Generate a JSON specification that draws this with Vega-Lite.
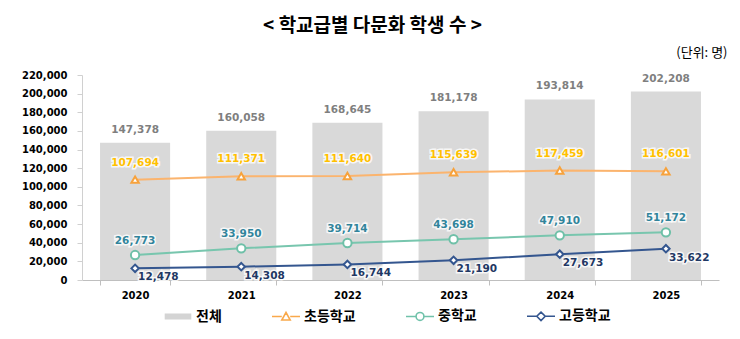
{
  "$schema": "https://vega.github.io/schema/vega-lite/v6.json",
  "width": 637,
  "height": 205,
  "autosize": {"type": "none"},
  "padding": {"left": 82, "top": 75, "right": 21, "bottom": 59},
  "background": "white",
  "title": {"text": "< 학교급별 다문화 학생 수 >", "frame": "group", "anchor": "middle", "dx": -28, "offset": 10, "font": "Noto Sans CJK KR", "fontSize": 19, "fontWeight": "bold", "color": "#000000"},
  "data": {"values": [
    {"year": "2020", "series": "전체", "value": 147378},
    {"year": "2021", "series": "전체", "value": 160058},
    {"year": "2022", "series": "전체", "value": 168645},
    {"year": "2023", "series": "전체", "value": 181178},
    {"year": "2024", "series": "전체", "value": 193814},
    {"year": "2025", "series": "전체", "value": 202208},
    {"year": "2020", "series": "초등학교", "value": 107694},
    {"year": "2021", "series": "초등학교", "value": 111371},
    {"year": "2022", "series": "초등학교", "value": 111640},
    {"year": "2023", "series": "초등학교", "value": 115639},
    {"year": "2024", "series": "초등학교", "value": 117459},
    {"year": "2025", "series": "초등학교", "value": 116601},
    {"year": "2020", "series": "중학교", "value": 26773},
    {"year": "2021", "series": "중학교", "value": 33950},
    {"year": "2022", "series": "중학교", "value": 39714},
    {"year": "2023", "series": "중학교", "value": 43698},
    {"year": "2024", "series": "중학교", "value": 47910},
    {"year": "2025", "series": "중학교", "value": 51172},
    {"year": "2020", "series": "고등학교", "value": 12478},
    {"year": "2021", "series": "고등학교", "value": 14308},
    {"year": "2022", "series": "고등학교", "value": 16744},
    {"year": "2023", "series": "고등학교", "value": 21190},
    {"year": "2024", "series": "고등학교", "value": 27673},
    {"year": "2025", "series": "고등학교", "value": 33622}
  ]},
  "encoding": {
    "x": {"field": "year", "type": "ordinal", "scale": {"paddingInner": 0.34, "paddingOuter": 0.17},
      "axis": {"title": null, "labelAngle": 0, "labelFont": "DejaVu Sans", "labelFontSize": 10, "labelFontWeight": "bold", "labelColor": "#000000", "labelPadding": 5, "domainColor": "#bfbfbf", "tickColor": "#bfbfbf", "tickSize": 5, "tickBand": "extent"}},
    "y": {"field": "value", "type": "quantitative", "scale": {"domain": [0, 220000], "nice": false},
      "axis": {"title": "(단위: 명)", "titleAngle": 0, "titleX": 645, "titleY": -23, "titleAlign": "right", "titleBaseline": "middle", "titleFont": "Noto Sans CJK KR", "titleFontSize": 13, "titleFontWeight": "normal", "titleColor": "#000000",
        "values": [0, 20000, 40000, 60000, 80000, 100000, 120000, 140000, 160000, 180000, 200000, 220000], "format": ",d", "grid": false, "labelFont": "DejaVu Sans", "labelFontSize": 10, "labelFontWeight": "bold", "labelColor": "#000000", "labelPadding": 10, "domainColor": "#d0d0d0", "tickColor": "#d0d0d0", "tickSize": 5}}
  },
  "layer": [
    {"transform": [{"filter": "datum.series === '전체'"}], "mark": {"type": "bar", "color": "#d9d9d9"}},
    {"mark": {"type": "point", "opacity": 0, "size": 1},
      "encoding": {
        "color": {"field": "series", "type": "nominal", "title": null,
          "scale": {"domain": ["전체", "초등학교", "중학교", "고등학교"], "range": ["#d4d4d4", "#f9a94b", "#70c2aa", "#34568f"]},
          "legend": {"orient": "none", "direction": "horizontal", "legendX": 81, "legendY": 226, "padding": 0, "columnPadding": 46, "labelOffset": 3, "symbolSize": 784, "symbolStrokeWidth": 1.6, "symbolOpacity": 1, "labelFont": "Noto Sans CJK KR", "labelFontSize": 14, "labelFontWeight": "bold", "labelColor": "#000000",
            "encode": {"symbols": {"update": {"opacity": {"value": 1}, "fill": {"value": "#ffffff"}}}}}},
        "shape": {"field": "series", "type": "nominal", "title": null,
          "scale": {"domain": ["전체", "초등학교", "중학교", "고등학교"], "range": [
            "M-0.95,-0.15H0.95M-0.95,-0.08H0.95M-0.95,0H0.95M-0.95,0.08H0.95M-0.95,0.15H0.95",
            "M-1,0H-0.3M0.3,0H1M0,-0.3L0.3,0.25L-0.3,0.25Z",
            "M-1,0H-0.28M0.28,0H1M0.28,0A0.28,0.28 0 1,1 -0.28,0A0.28,0.28 0 1,1 0.28,0Z",
            "M-1,0H-0.3M0.3,0H1M0,-0.3L0.3,0L0,0.3L-0.3,0Z"]}}
      }},
    {"transform": [{"filter": "datum.series !== '전체'"}], "mark": {"type": "line", "strokeWidth": 2},
      "encoding": {"stroke": {"field": "series", "type": "nominal", "legend": null, "scale": {"domain": ["초등학교", "중학교", "고등학교"], "range": ["#fbb46e", "#78c6ae", "#34568f"]}}}},
    {"transform": [{"filter": "datum.series === '초등학교'"}], "mark": {"type": "point", "shape": "triangle-up", "filled": false, "fill": "#ffffff", "fillOpacity": 1, "stroke": "#f7a23c", "strokeWidth": 2, "size": 55, "opacity": 1}},
    {"transform": [{"filter": "datum.series === '중학교'"}], "mark": {"type": "point", "shape": "circle", "filled": false, "fill": "#ffffff", "fillOpacity": 1, "stroke": "#6fc0a8", "strokeWidth": 2, "size": 70, "opacity": 1}},
    {"transform": [{"filter": "datum.series === '고등학교'"}], "mark": {"type": "point", "shape": "diamond", "filled": false, "fill": "#ffffff", "fillOpacity": 1, "stroke": "#34568f", "strokeWidth": 2, "size": 55, "opacity": 1}},
    {"transform": [{"filter": "datum.series === '전체'"}], "mark": {"type": "text", "font": "DejaVu Sans", "fontSize": 10.5, "fontWeight": "bold", "baseline": "middle", "dy": -13, "fill": "#ffffff", "stroke": "#ffffff", "strokeWidth": 3, "strokeOpacity": 0.8}, "encoding": {"text": {"field": "value", "type": "quantitative", "format": ","}}},
    {"transform": [{"filter": "datum.series === '전체'"}], "mark": {"type": "text", "font": "DejaVu Sans", "fontSize": 10.5, "fontWeight": "bold", "baseline": "middle", "dy": -13, "fill": "#7f7f7f"}, "encoding": {"text": {"field": "value", "type": "quantitative", "format": ","}}},
    {"transform": [{"filter": "datum.series === '초등학교'"}], "mark": {"type": "text", "font": "DejaVu Sans", "fontSize": 10.5, "fontWeight": "bold", "baseline": "middle", "dy": -17, "fill": "#ffffff", "stroke": "#ffffff", "strokeWidth": 3, "strokeOpacity": 0.8}, "encoding": {"text": {"field": "value", "type": "quantitative", "format": ","}}},
    {"transform": [{"filter": "datum.series === '초등학교'"}], "mark": {"type": "text", "font": "DejaVu Sans", "fontSize": 10.5, "fontWeight": "bold", "baseline": "middle", "dy": -17, "fill": "#ffc000"}, "encoding": {"text": {"field": "value", "type": "quantitative", "format": ","}}},
    {"transform": [{"filter": "datum.series === '중학교'"}], "mark": {"type": "text", "font": "DejaVu Sans", "fontSize": 10.5, "fontWeight": "bold", "baseline": "middle", "dy": -14, "fill": "#ffffff", "stroke": "#ffffff", "strokeWidth": 3, "strokeOpacity": 0.8}, "encoding": {"text": {"field": "value", "type": "quantitative", "format": ","}}},
    {"transform": [{"filter": "datum.series === '중학교'"}], "mark": {"type": "text", "font": "DejaVu Sans", "fontSize": 10.5, "fontWeight": "bold", "baseline": "middle", "dy": -14, "fill": "#31849b"}, "encoding": {"text": {"field": "value", "type": "quantitative", "format": ","}}},
    {"transform": [{"filter": "datum.series === '고등학교'"}], "mark": {"type": "text", "font": "DejaVu Sans", "fontSize": 10.5, "fontWeight": "bold", "baseline": "middle", "align": "left", "dx": 3, "dy": 9, "fill": "#ffffff", "stroke": "#ffffff", "strokeWidth": 3, "strokeOpacity": 0.8}, "encoding": {"text": {"field": "value", "type": "quantitative", "format": ","}}},
    {"transform": [{"filter": "datum.series === '고등학교'"}], "mark": {"type": "text", "font": "DejaVu Sans", "fontSize": 10.5, "fontWeight": "bold", "baseline": "middle", "align": "left", "dx": 3, "dy": 9, "fill": "#1f3864"}, "encoding": {"text": {"field": "value", "type": "quantitative", "format": ","}}}
  ],
  "config": {"view": {"stroke": null}}
}
